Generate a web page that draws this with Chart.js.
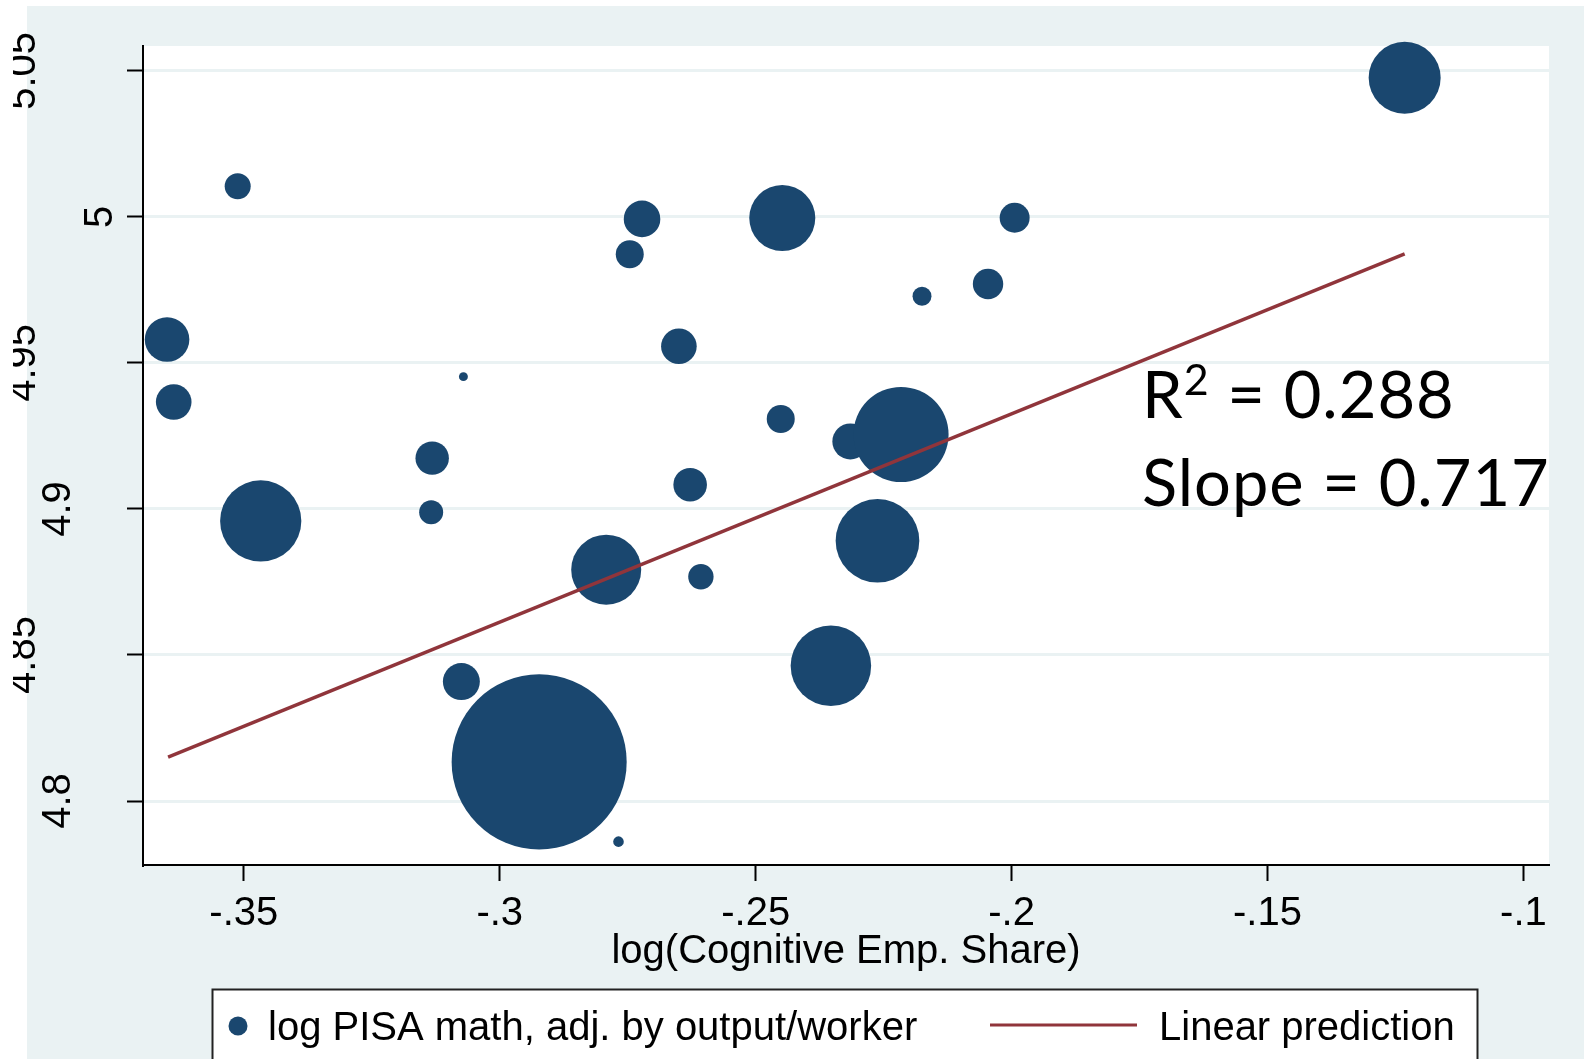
<!DOCTYPE html>
<html>
<head>
<meta charset="utf-8">
<title>Cognitive employment share vs PISA math</title>
<script src="https://cdn.jsdelivr.net/npm/chart.js@4.4.1/dist/chart.umd.min.js"></script>
<style>
    html, body { margin: 0; padding: 0; background: #fff; }
    #wrap { width: 1584px; height: 1059px; position: relative; }
</style>
</head>
<body>
<div id="wrap"><canvas id="chart"></canvas></div>
<script>
// log(Cognitive Emp. Share), one value per country
const shareX = [-0.3512, -0.3650, -0.3637, -0.3071, -0.3132, -0.3134, -0.3467, -0.2792, -0.3075,
    -0.2923, -0.2722, -0.2746, -0.2448, -0.1994, -0.2046, -0.2175, -0.2650, -0.2451, -0.2315,
    -0.2216, -0.2628, -0.2607, -0.2262, -0.2353, -0.2768, -0.1232];
// log PISA math, adj. by output/worker
const pisaY = [5.0105, 4.9580, 4.9366, 4.9453, 4.9174, 4.8989, 4.8959, 4.8792, 4.8409,
    4.8134, 4.9993, 4.9872, 4.9996, 4.9997, 4.9770, 4.9728, 4.9557, 4.9308, 4.9231,
    4.9255, 4.9083, 4.8768, 4.8891, 4.8463, 4.7861, 5.0476];
// bubble weights (area is proportional to weight)
const weights = [1.69, 4.97, 3.17, 0.20, 2.79, 1.44, 16.5, 12.25, 3.42,
    76.6, 3.35, 1.96, 10.9, 2.25, 2.31, 0.90, 3.17, 1.96, 3.24,
    22.6, 2.82, 1.61, 17.5, 16.2, 0.28, 12.96];

// fitted line end points
const fitX = [-0.3648, -0.1232];
const fitY = [4.8150, 4.9873];

const xTicks = [-0.35, -0.3, -0.25, -0.2, -0.15, -0.1];
const xTickLabels = ['-.35', '-.3', '-.25', '-.2', '-.15', '-.1'];
const yTicks = [4.8, 4.85, 4.9, 4.95, 5, 5.05];
const yTickLabels = ['4.8', '4.85', '4.9', '4.95', '5', '5.05'];

const seriesNames = ['log PISA math, adj. by output/worker', 'Linear prediction'];
const xTitle = 'log(Cognitive Emp. Share)';
const rSquared = '0.288';
const slopeText = '0.717';

const NAVY = '#1a476f';
const MAROON = '#90353b';
const BG = '#eaf2f3';
const SANS = '"Liberation Sans", Arial, sans-serif';

// Stata-like frame, labels, legend and annotation
const frame = {
    id: 'frame',
    beforeDraw(chart) {
        const { ctx, chartArea: a, width, height } = chart;
        ctx.save();
        ctx.fillStyle = '#fff';
        ctx.fillRect(0, 0, width, height);
        ctx.fillStyle = BG;
        ctx.fillRect(27, 6, width - 27, height - 6);
        ctx.fillStyle = '#fff';
        ctx.fillRect(a.left, a.top, a.right - a.left, a.bottom - a.top);
        ctx.restore();
    },
    afterDraw(chart) {
        const { ctx, chartArea: a } = chart;
        const xs = chart.scales.x;
        const ys = chart.scales.y;
        ctx.save();
        ctx.fillStyle = '#000';

        // x tick labels
        ctx.font = '40px ' + SANS;
        ctx.textAlign = 'center';
        ctx.textBaseline = 'alphabetic';
        xTicks.forEach((v, i) => {
            ctx.fillText(xTickLabels[i], xs.getPixelForValue(v), 925);
        });

        // x axis title
        ctx.fillText(xTitle, (a.left + a.right) / 2, 963);

        // y tick labels, rotated
        const baseX = { 1: 112, 3: 70, 4: 35 };
        ctx.save();
        ctx.beginPath();
        ctx.rect(13, 0, a.left, chart.height);
        ctx.clip();
        yTicks.forEach((v, i) => {
            const lab = yTickLabels[i];
            ctx.save();
            ctx.translate(baseX[lab.length], ys.getPixelForValue(v));
            ctx.rotate(-Math.PI / 2);
            ctx.fillText(lab, 0, 0);
            ctx.restore();
        });
        ctx.restore();

        // R^2 and slope annotation
        ctx.save();
        ctx.textAlign = 'left';
        ctx.letterSpacing = '1px';
        const big = '65px Lato, "Open Sans", sans-serif';
        const small = '43px Lato, "Open Sans", sans-serif';
        let x = 1142;
        ctx.font = big;
        ctx.fillText('R', x, 418);
        x += ctx.measureText('R').width;
        ctx.font = small;
        ctx.fillText('2', x, 395);
        x += ctx.measureText('2').width;
        ctx.font = big;
        ctx.fillText(' = ' + rSquared, x, 418);
        ctx.fillText('Slope = ' + slopeText, 1142, 506);
        ctx.restore();

        // legend
        ctx.textAlign = 'left';
        ctx.fillStyle = '#fff';
        ctx.fillRect(212.5, 989.5, 1265, 120);
        ctx.strokeStyle = '#222';
        ctx.lineWidth = 2;
        ctx.strokeRect(212.5, 989.5, 1265, 120);
        ctx.fillStyle = NAVY;
        ctx.beginPath();
        ctx.arc(238, 1026, 9.5, 0, Math.PI * 2);
        ctx.fill();
        ctx.strokeStyle = MAROON;
        ctx.lineWidth = 3;
        ctx.beginPath();
        ctx.moveTo(990, 1025);
        ctx.lineTo(1137, 1025);
        ctx.stroke();
        ctx.fillStyle = '#000';
        ctx.font = '40px ' + SANS;
        ctx.fillText(seriesNames[0], 268, 1040);
        ctx.fillText(seriesNames[1], 1159, 1040);
        ctx.restore();
    }
};

const bubbles = shareX.map((x, i) => ({ x: x, y: pisaY[i], r: 10 * Math.sqrt(weights[i]) }));
const fitLine = fitX.map((x, i) => ({ x: x, y: fitY[i] }));

new Chart(document.getElementById('chart'), {
    type: 'bubble',
    data: {
        datasets: [{
            type: 'line',
            label: seriesNames[1],
            data: fitLine,
            borderColor: MAROON,
            borderWidth: 3.5,
            pointRadius: 0,
            fill: false,
            order: 0
        }, {
            type: 'bubble',
            label: seriesNames[0],
            data: bubbles,
            backgroundColor: NAVY,
            borderWidth: 0,
            hoverRadius: 0,
            clip: false,
            order: 1
        }]
    },
    options: {
        responsive: true,
        maintainAspectRatio: false,
        animation: false,
        events: [],
        layout: { autoPadding: false, padding: { top: 46, right: 35, left: 0, bottom: 0 } },
        plugins: {
            legend: { display: false },
            tooltip: { enabled: false }
        },
        scales: {
            x: {
                type: 'linear',
                min: -0.3697,
                max: -0.0950,
                afterBuildTicks: s => { s.ticks = xTicks.map(v => ({ value: v })); },
                afterFit: s => { s.height = 1059 - 865; },
                ticks: { display: false },
                grid: { drawOnChartArea: false, tickLength: 16, tickColor: '#000', tickWidth: 2 },
                border: { color: '#000', width: 2 }
            },
            y: {
                type: 'linear',
                min: 4.7781,
                max: 5.0585,
                afterBuildTicks: s => { s.ticks = yTicks.map(v => ({ value: v })); },
                afterFit: s => { s.width = 143; },
                ticks: { display: false },
                grid: { color: BG, lineWidth: 3, tickLength: 16, tickColor: '#000', tickWidth: 2 },
                border: { color: '#000', width: 2 }
            }
        }
    },
    plugins: [frame]
});
</script>
</body>
</html>
